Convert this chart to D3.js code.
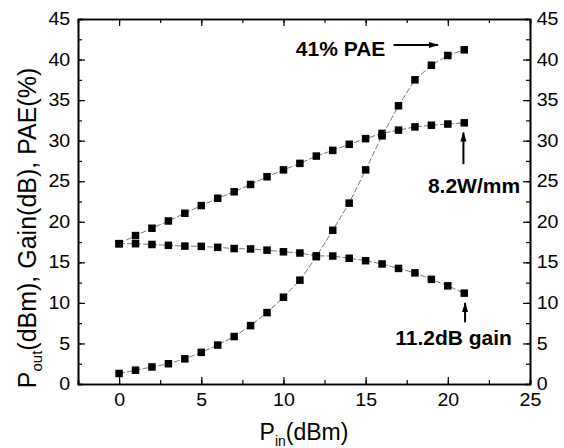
<!DOCTYPE html>
<html>
<head>
<meta charset="utf-8">
<script src="https://cdn.jsdelivr.net/npm/d3@7"></script>
<style>
  body { margin: 0; background: #fff; }
  text { font-family: "Liberation Sans", Arial, sans-serif; }
</style>
</head>
<body>
<div id="chart"></div>
<script>
// input power (dBm)
const pin = [0,1,2,3,4,5,6,7,8,9,10,11,12,13,14,15,16,17,18,19,20,21];
// output power (dBm)
const pout = [17.3,18.3,19.2,20.1,21.05,22.0,22.9,23.7,24.6,25.55,26.4,27.2,28.1,28.8,29.55,30.25,30.9,31.3,31.7,31.9,32.05,32.2];
// gain (dB)
const gain = [17.3,17.3,17.2,17.1,17.0,16.97,16.85,16.7,16.65,16.5,16.3,16.15,15.8,15.78,15.5,15.2,14.8,14.25,13.7,12.9,12.1,11.2];
// PAE (%)
const pae = [1.3,1.7,2.1,2.5,3.1,3.9,4.8,5.85,7.2,8.8,10.7,12.8,15.7,18.95,22.3,26.4,30.6,34.3,37.5,39.3,40.5,41.2];

const xTicks = [0,5,10,15,20,25];
const yTicks = [0,5,10,15,20,25,30,35,40,45];

const W = 564, H = 448;
const margin = {left: 78, right: 34, top: 19, bottom: 64};

let svg = d3.select("#chart")
    .append("svg")
    .attr("width", W)
    .attr("height", H);

let x = d3.scaleLinear()
    .domain([-2.5, 25])
    .range([margin.left, W - margin.right]);

let y = d3.scaleLinear()
    .domain([0, 45])
    .range([H - margin.bottom, margin.top]);

let minorX = d3.range(-2.5, 25.01, 2.5);
let minorY = d3.range(0, 45.01, 2.5);

function styleAxis(g) {
    g.select(".domain").attr("stroke", "#000").attr("stroke-width", 1.6);
    g.selectAll(".tick line").attr("stroke", "#000").attr("stroke-width", 1.2);
    g.selectAll("text")
        .style("font-size", "17.5px")
        .attr("fill", "#000")
        .attr("transform", "scale(1.12,1)");
}

// minor ticks (inside)
svg.append("g")
    .attr("transform", `translate(0,${y(0)})`)
    .call(d3.axisBottom(x).tickValues(minorX).tickSize(-4).tickFormat(""))
    .call(styleAxis);
svg.append("g")
    .attr("transform", `translate(0,${y(45)})`)
    .call(d3.axisTop(x).tickValues(minorX).tickSize(-4).tickFormat(""))
    .call(styleAxis);
svg.append("g")
    .attr("transform", `translate(${x(-2.5)},0)`)
    .call(d3.axisLeft(y).tickValues(minorY).tickSize(-4).tickFormat(""))
    .call(styleAxis);
svg.append("g")
    .attr("transform", `translate(${x(25)},0)`)
    .call(d3.axisRight(y).tickValues(minorY).tickSize(-4).tickFormat(""))
    .call(styleAxis);

// major ticks + labels
svg.append("g")
    .attr("transform", `translate(0,${y(0)})`)
    .call(d3.axisBottom(x).tickValues(xTicks).tickSizeInner(-7).tickSizeOuter(0).tickPadding(10).tickFormat(d3.format("d")))
    .call(styleAxis);
svg.append("g")
    .attr("transform", `translate(0,${y(45)})`)
    .call(d3.axisTop(x).tickValues(xTicks).tickSizeInner(-7).tickSizeOuter(0).tickFormat(""))
    .call(styleAxis);
svg.append("g")
    .attr("transform", `translate(${x(-2.5)},0)`)
    .call(d3.axisLeft(y).tickValues(yTicks).tickSizeInner(-7).tickSizeOuter(0).tickPadding(7).tickFormat(d3.format("d")))
    .call(styleAxis);
svg.append("g")
    .attr("transform", `translate(${x(25)},0)`)
    .call(d3.axisRight(y).tickValues(yTicks).tickSizeInner(-7).tickSizeOuter(0).tickPadding(6).tickFormat(d3.format("d")))
    .call(styleAxis);

// series
let line = d3.line()
    .x(d => x(d[0]))
    .y(d => y(d[1]));

[pout, gain, pae].forEach(function(vals) {
    let pts = pin.map((p, i) => [p, vals[i]]);
    svg.append("path")
        .datum(pts)
        .attr("d", line)
        .attr("fill", "none")
        .attr("stroke", "#555")
        .attr("stroke-width", 0.8)
        .attr("stroke-dasharray", "6,2");
    svg.selectAll(null)
        .data(pts)
        .enter()
        .append("rect")
        .attr("x", d => x(d[0]) - 3.75)
        .attr("y", d => y(d[1]) - 3.75)
        .attr("width", 7.5)
        .attr("height", 7.5)
        .attr("fill", "#000");
});

// arrow head
svg.append("defs").append("marker")
    .attr("id", "arr")
    .attr("viewBox", "0 0 10 10")
    .attr("refX", 9).attr("refY", 5)
    .attr("markerWidth", 10).attr("markerHeight", 10)
    .attr("markerUnits", "userSpaceOnUse")
    .attr("orient", "auto")
    .append("path")
    .attr("d", "M0,2 L10,5 L0,8 Z")
    .attr("fill", "#000");

// annotations
function note(txt, tx, ty) {
    svg.append("text")
        .attr("x", tx).attr("y", ty)
        .attr("text-anchor", "end")
        .style("font-size", "21px")
        .style("font-weight", "bold")
        .text(txt);
}
function arrow(x1, y1, x2, y2) {
    svg.append("line")
        .attr("x1", x1).attr("y1", y1)
        .attr("x2", x2).attr("y2", y2)
        .attr("stroke", "#000")
        .attr("stroke-width", 2)
        .attr("marker-end", "url(#arr)");
}

note("41% PAE", x(16.2), y(40.4));
arrow(x(16.7), y(41.8), x(19.4), y(41.8));

note("8.2W/mm", x(24.4), y(23.6));
arrow(x(20.95), y(27.1), x(20.95), y(31));

note("11.2dB gain", x(23.9), y(4.8));
arrow(x(21.05), y(7.6), x(21.05), y(10));

// axis titles
svg.append("text")
    .attr("transform", `translate(${x(-2.5) + 226},440)`)
    .attr("text-anchor", "middle")
    .style("font-size", "23px")
    .html('P<tspan dy="6" font-size="14px">in</tspan><tspan dy="-6">(dBm)</tspan>');

svg.append("text")
    .attr("transform", `translate(36,228) rotate(-90)`)
    .attr("text-anchor", "middle")
    .style("font-size", "25px")
    .html('P<tspan dy="6" font-size="15px">out</tspan><tspan dy="-6">(dBm), Gain(dB), PAE(%)</tspan>');
</script>
</body>
</html>
